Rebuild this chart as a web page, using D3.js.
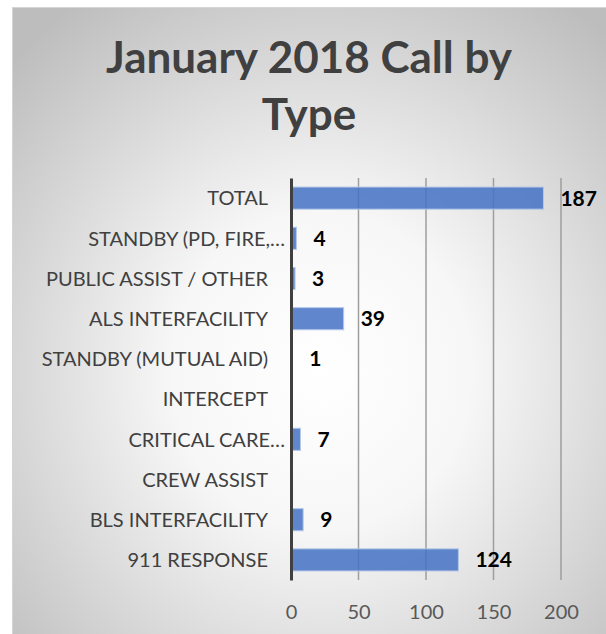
<!DOCTYPE html>
<html>
<head>
<meta charset="utf-8">
<script src="https://cdn.jsdelivr.net/npm/d3@7"></script>
<style>
  body { margin: 0; background: #fff; }
  svg { display: block; }
</style>
</head>
<body>
<div id="chart"></div>
<script>
// Data, top row first as in the picture
const categories = [
    "TOTAL",
    "STANDBY (PD, FIRE,…",
    "PUBLIC ASSIST / OTHER",
    "ALS INTERFACILITY",
    "STANDBY (MUTUAL AID)",
    "INTERCEPT",
    "CRITICAL CARE…",
    "CREW ASSIST",
    "BLS INTERFACILITY",
    "911 RESPONSE"
];
const calls = [187, 4, 3, 39, 1, null, 7, null, 9, 124];
const xTicks = [0, 50, 100, 150, 200];
const titleLines = ["January 2018 Call by", "Type"];

const W = 606, H = 634;
const plot = { left: 291, right: 561, top: 178, bottom: 580 };

const svg = d3.select("#chart").append("svg")
    .attr("width", W)
    .attr("height", H);

// Chart area background (radial grey gradient)
const grad = svg.append("defs").append("radialGradient")
    .attr("id", "bg")
    .attr("cx", "52%").attr("cy", "58%").attr("r", "72%");
grad.append("stop").attr("offset", "0%").attr("stop-color", "#ffffff");
grad.append("stop").attr("offset", "35%").attr("stop-color", "#f7f7f7");
grad.append("stop").attr("offset", "100%").attr("stop-color", "#bdbdbd");

svg.append("rect")
    .attr("x", 12.5).attr("y", 7.5)
    .attr("width", W - 12).attr("height", H - 7)
    .attr("fill", "url(#bg)")
    .attr("stroke", "#d4d4d4")
    .attr("stroke-width", 1);

// Title
svg.append("text")
    .attr("text-anchor", "middle")
    .style("font-family", "Lato, 'Open Sans', sans-serif")
    .style("font-weight", "bold")
    .style("font-size", "44px")
    .attr("fill", "#404040")
    .selectAll("tspan")
    .data(titleLines)
    .join("tspan")
    .attr("x", 309)
    .attr("y", (d, i) => 73 + i * 57)
    .text(d => d);

// Scales
const x = d3.scaleLinear().domain([0, 200]).range([plot.left, plot.right]);
const y = d3.scaleBand()
    .domain(categories)
    .range([plot.top, plot.bottom])
    .paddingInner(0.45)
    .paddingOuter(0.225);

// Gridlines
svg.append("g")
    .selectAll("line")
    .data(xTicks.slice(1))
    .join("line")
    .attr("x1", d => x(d)).attr("x2", d => x(d))
    .attr("y1", plot.top).attr("y2", plot.bottom)
    .attr("stroke", "#9e9e9e")
    .attr("stroke-width", 1.5);

// Bars
svg.selectAll(".bar")
    .data(categories.map((c, i) => ({ cat: c, v: calls[i] })))
    .join("rect")
    .attr("class", "bar")
    .attr("x", x(0))
    .attr("y", d => y(d.cat))
    .attr("width", d => x(d.v || 0) - x(0))
    .attr("height", y.bandwidth())
    .attr("fill", "#4472c4")
    .attr("fill-opacity", 0.85)
    .attr("stroke", d => d.v ? "#b4c7e7" : "none")
    .attr("stroke-width", 1);

// Value labels
svg.selectAll(".label")
    .data(categories.map((c, i) => ({ cat: c, v: calls[i] })).filter(d => d.v != null))
    .join("text")
    .attr("class", "label")
    .attr("x", d => x(d.v) + 17)
    .attr("y", d => y(d.cat) + y.bandwidth() / 2)
    .attr("dy", "0.36em")
    .style("font-family", "Lato, 'Open Sans', sans-serif")
    .style("font-weight", "bold")
    .style("font-size", "21px")
    .attr("fill", "#000")
    .text(d => d.v);

// Category axis
const yAxis = svg.append("g")
    .attr("transform", `translate(${plot.left},0)`)
    .call(d3.axisLeft(y).tickSize(0).tickPadding(23));
yAxis.select(".domain")
    .attr("stroke", "#404040")
    .attr("stroke-width", 3);
yAxis.selectAll("text")
    .style("font-family", "Lato, 'Open Sans', sans-serif")
    .style("font-size", "20px")
    .attr("fill", "#404040")
    .attr("dy", "0.36em")
    .attr("x", d => d.endsWith("…") ? -6 : -23);

// Value axis (labels only)
const xAxis = svg.append("g")
    .attr("transform", `translate(0,${plot.bottom})`)
    .call(d3.axisBottom(x).tickValues(xTicks).tickSize(0).tickPadding(0));
xAxis.select(".domain").remove();
xAxis.selectAll("text")
    .style("font-family", "Lato, 'Open Sans', sans-serif")
    .style("font-size", "20px")
    .attr("fill", "#595959")
    .attr("dy", null)
    .attr("y", 39);
</script>
</body>
</html>
